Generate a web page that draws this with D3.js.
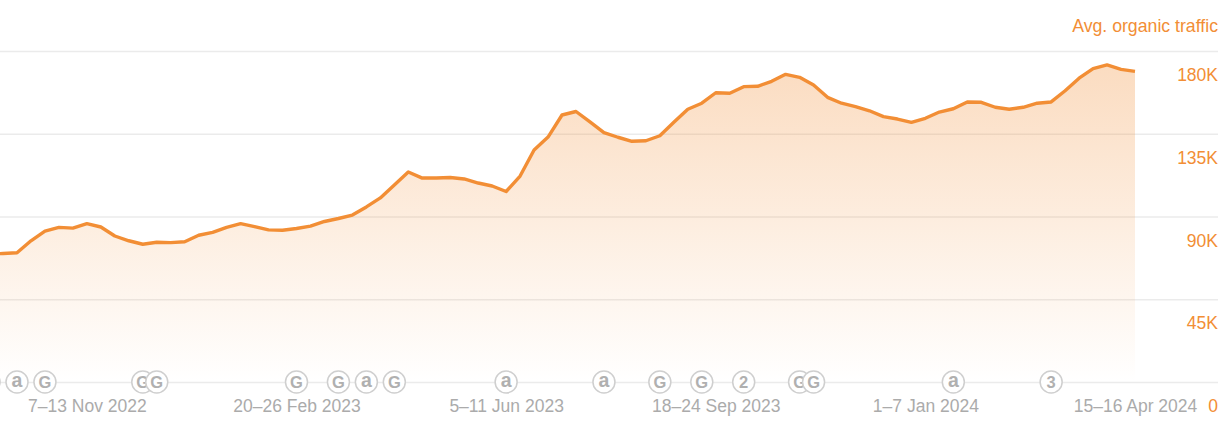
<!DOCTYPE html>
<html><head><meta charset="utf-8">
<script src="https://cdn.jsdelivr.net/npm/d3@7"></script>
<style>
html,body{margin:0;padding:0;background:#fff}
svg{display:block}
text{font-family:"Liberation Sans",Arial,sans-serif}
</style></head><body>
<svg id="c" width="1226" height="430"></svg>
<script>
const firstWeek = "2022-09-19";
const traffic = [69.6,69.9,70.3,76.8,82.1,84.1,83.7,86.1,84.3,79.4,76.8,74.9,76.0,75.8,76.3,79.8,81.4,84.1,86.1,84.5,82.7,82.5,83.5,84.8,87.3,88.9,90.8,95.2,100.1,107.1,114.2,110.9,110.9,111.2,110.4,108.2,106.6,103.6,112.0,126.2,133.2,145.2,147.1,141.4,135.6,133.1,130.9,131.2,133.9,141.2,148.3,151.6,157.3,157.0,160.6,160.8,163.5,167.3,165.7,161.5,154.8,151.6,149.7,147.5,144.3,143.0,141.2,143.4,146.8,148.6,152.3,152.1,149.4,148.3,149.4,151.6,152.3,158.4,165.2,170.4,172.4,170.0,168.9];
const yTicks = [0,45,90,135,180];
const yTickLabels = ["0","45K","90K","135K","180K"];
const xTickDates = ["2022-11-07","2023-02-20","2023-06-05","2023-09-18","2024-01-01","2024-04-15"];
const xTickLabels = ["7–13 Nov 2022","20–26 Feb 2023","5–11 Jun 2023","18–24 Sep 2023","1–7 Jan 2024","15–16 Apr 2024"];
const eventDates = ["2022-09-19","2022-10-03","2022-10-17","2022-12-05","2022-12-12","2023-02-20","2023-03-13","2023-03-27","2023-04-10","2023-06-05","2023-07-24","2023-08-21","2023-09-11","2023-10-02","2023-10-30","2023-11-06","2024-01-15","2024-03-04"];
const eventLabels = ["","a","G","G","G","G","G","a","G","a","a","G","G","2","G","G","a","3"];
const seriesName = "Avg. organic traffic";

const ORANGE="#f28e35", GRID="#ebebeb", GREY="#ababab", FS=17.5;
const parse=d3.utcParse("%Y-%m-%d");
const dates=traffic.map((_,i)=>d3.utcDay.offset(parse(firstWeek),i*7));
const svg=d3.select("#c");

const x=d3.scaleUtc().domain([parse("2022-10-03"),parse("2024-04-15")]).range([17,1135]);
const y=d3.scaleLinear().domain([0,180]).range([382,51]);

const defs=svg.append("defs");
const g=defs.append("linearGradient").attr("id","fade").attr("x1",0).attr("x2",0).attr("y1",0).attr("y2",1);
g.append("stop").attr("offset",0).attr("stop-color",ORANGE).attr("stop-opacity",.31);
g.append("stop").attr("offset",1).attr("stop-color",ORANGE).attr("stop-opacity",0);

// y axis with gridlines
const yAxis=d3.axisRight(y).tickValues(yTicks).tickSize(-1218).tickFormat((d,i)=>yTickLabels[i]);
const ya=svg.append("g").attr("transform","translate(1218,0)").call(yAxis);
ya.select(".domain").remove();
ya.selectAll("line").attr("stroke",GRID).attr("stroke-width",1.5);
ya.selectAll("text").attr("x",0).attr("dy",0).attr("y",29.5).attr("text-anchor","end")
  .attr("fill",ORANGE).attr("font-size",FS).style("font-family",'"Liberation Sans",Arial,sans-serif');

// area + line
const area=d3.area().x((d,i)=>x(dates[i])).y0(y(0)).y1(d=>y(d));
const line=d3.line().x((d,i)=>x(dates[i])).y(d=>y(d));
svg.append("path").datum(traffic).attr("d",area).attr("fill","url(#fade)");
svg.append("path").datum(traffic).attr("d",line).attr("fill","none").attr("stroke",ORANGE).attr("stroke-width",3.4).attr("stroke-linejoin","round");

// x axis
const xAxis=d3.axisBottom(x).tickValues(xTickDates.map(parse)).tickSize(0).tickPadding(0).tickFormat((d,i)=>xTickLabels[i]);
const xa=svg.append("g").attr("transform","translate(0,382)").call(xAxis);
xa.select(".domain").remove();
xa.selectAll("text").attr("dy",0).attr("y",29.5).attr("fill",GREY).attr("font-size",FS).attr("text-anchor","middle")
  .style("font-family",'"Liberation Sans",Arial,sans-serif');

// event markers
const ev=svg.append("g").selectAll("g").data(eventDates).join("g")
  .attr("transform",d=>`translate(${x(parse(d))},${y(0)})`);
ev.append("circle").attr("r",11).attr("fill","#fff").attr("stroke","#cfcfcf").attr("stroke-width",1.5);
ev.each(function(d,i){
  const l=eventLabels[i];
  if(!l) return;
  const isA=l==="a";
  d3.select(this).append("text").attr("text-anchor","middle").attr("fill","#b0b0b0").attr("font-weight",700)
    .attr("y",isA?5.4:5.9).attr("font-size",isA?19.5:16.5).text(l);
});

// series title
svg.append("text").attr("x",1218).attr("y",32).attr("text-anchor","end").attr("fill",ORANGE).attr("font-size",17.7).text(seriesName);
</script>
</body></html>
